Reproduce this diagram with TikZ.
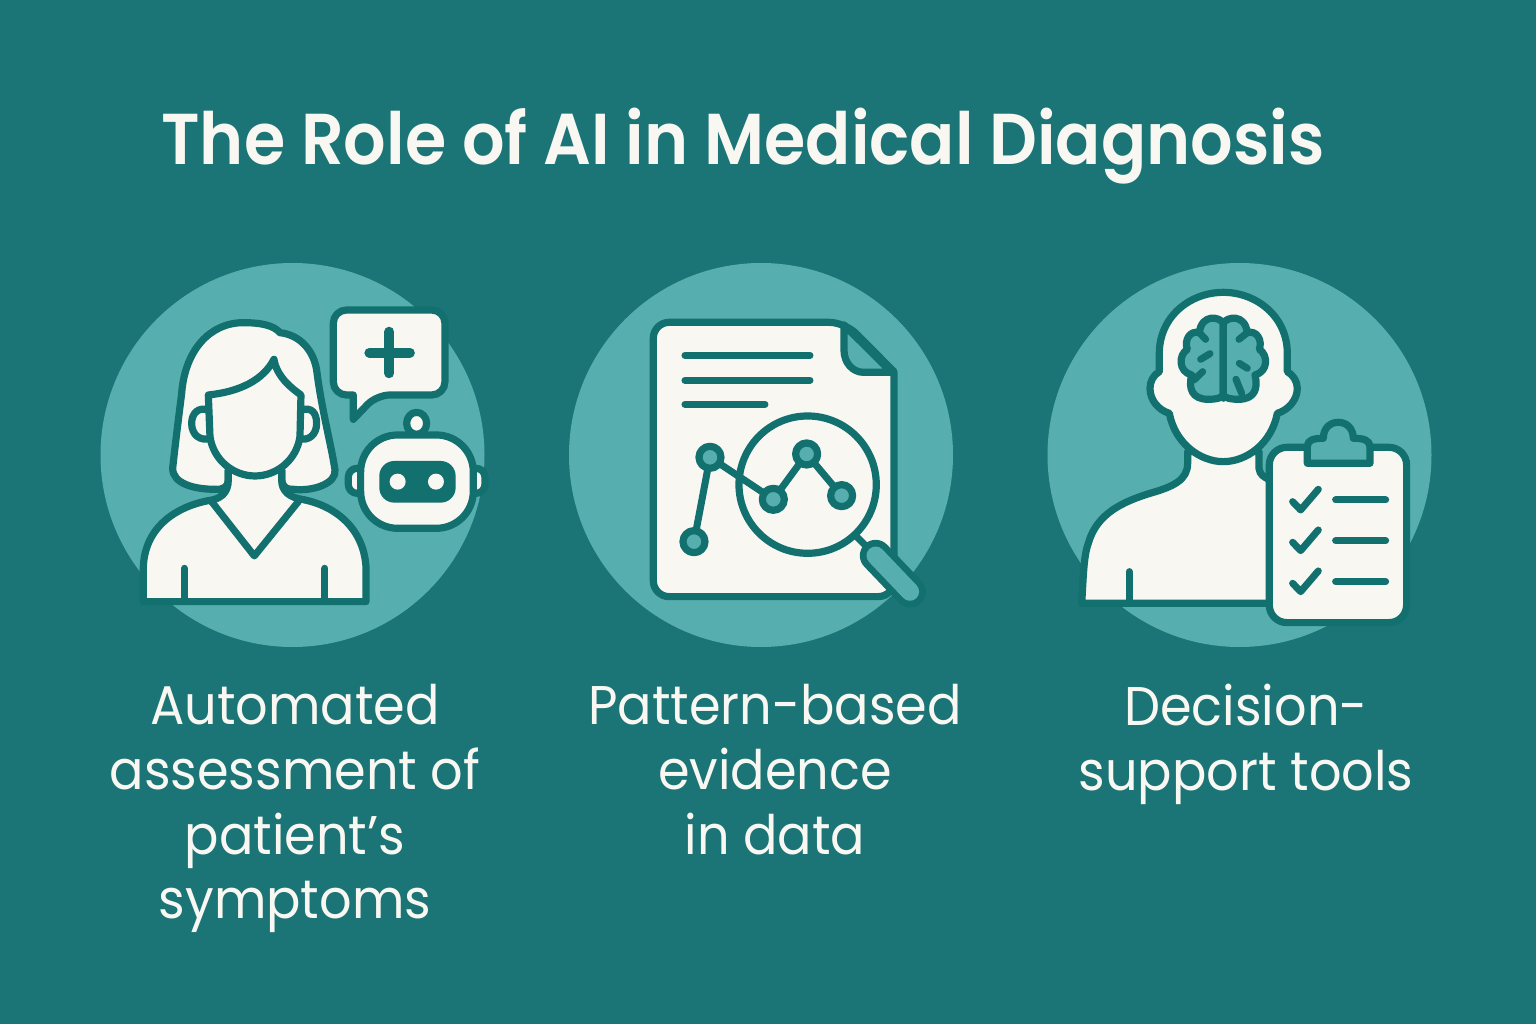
\documentclass[tikz,border=0pt]{standalone}
\usepackage{fontspec}
\setmainfont{Poppins}
\newfontfamily\titlefont[FakeStretch=0.927]{Poppins SemiBold}
\newfontfamily\labelfont[FakeStretch=0.935]{Poppins}
\definecolor{tealbg}{HTML}{1B7476}
\definecolor{tealmid}{HTML}{57AEAF}
\definecolor{tealink}{HTML}{12706F}
\definecolor{paper}{HTML}{F8F7F1}
\tikzset{
  inkline/.style={draw=tealink,line width=4.1pt,line join=round,line cap=round},
  papershape/.style={inkline,fill=paper},
  midshape/.style={inkline,fill=tealmid},
  thinline/.style={draw=tealink,line width=4pt,line cap=round},
  disc/.style={fill=tealmid},
  caption/.style={text=paper,align=center,font=\labelfont\fontsize{31}{36.85}\selectfont,anchor=north}
}
\begin{document}
\begin{tikzpicture}[x=0.02cm,y=-0.02cm]
  \fill[tealbg] (0,0) rectangle (1536,1024);
  \node[text=paper,font=\titlefont\fontsize{41}{50}\selectfont,anchor=base] (title) at (743,165) {The Role of AI in Medical Diagnosis};
  \fill[disc] (292.5,455) circle (192);
  \fill[disc] (761,455) circle (192);
  \fill[disc] (1239.5,455) circle (192);

  % patient and robot
  \begin{scope}[shift={(100,260)},scale=0.3333]
    \draw[papershape] (385,630) -- (385,660) .. controls (385,680) and (370,690) .. (345,688) .. controls (280,688) and (218,670) .. (218,625) .. controls (225,560) and (235,480) .. (245,400) .. controls (255,270) and (330,188) .. (430,188) .. controls (480,188) and (520,195) .. (540,218) .. controls (600,225) and (640,270) .. (650,330) .. controls (665,450) and (695,560) .. (705,630) .. controls (710,670) and (640,695) .. (580,688) .. controls (555,688) and (545,680) .. (545,650) -- (545,630);
    \draw[papershape] (130,1025) -- (130,920) .. controls (135,800) and (230,740) .. (325,722) .. controls (360,718) and (385,700) .. (385,660) -- (385,630) -- (545,630) -- (545,660) .. controls (545,695) and (570,712) .. (605,718) .. controls (700,735) and (790,800) .. (798,920) -- (798,1025) -- cycle;
    \draw[thinline,line join=round] (335,725) -- (463,888) -- (595,725);
    \draw[thinline] (253,925) -- (253,1025);
    \draw[thinline] (675,925) -- (675,1025);
    \draw[papershape] (325,450) .. controls (295,440) and (275,460) .. (275,490) .. controls (275,525) and (300,545) .. (335,535);
    \draw[papershape] (605,450) .. controls (635,440) and (650,460) .. (650,490) .. controls (650,525) and (625,545) .. (595,535);
    \draw[papershape] (325,405) .. controls (420,395) and (490,360) .. (522,298) .. controls (530,350) and (575,385) .. (603,405) -- (600,530) .. controls (590,600) and (530,648) .. (465,648) .. controls (400,648) and (340,600) .. (330,530) -- cycle;
    % speech bubble
    \draw[papershape,rounded corners=7.5pt] (700,150) -- (1035,150) -- (1035,405) -- (830,405) [sharp corners] -- (760,478) -- (760,405) [rounded corners=7.5pt] -- (700,405) -- cycle;
    \draw[thinline,line width=5.6pt] (868,215) -- (868,340);
    \draw[thinline,line width=5.6pt] (808,278) -- (930,278);
    % robot
    \draw[papershape] (950,490) ellipse (30 and 33);
    \draw[papershape,rounded corners=5pt] (790,625) -- (745,625) -- (745,700) -- (790,700);
    \draw[papershape,rounded corners=5pt] (1110,625) -- (1155,625) -- (1155,700) -- (1110,700);
    \draw[papershape,rounded corners=21pt] (782,525) rectangle (1120,805);
    \fill[tealink,rounded corners=8.5pt] (838,603) rectangle (1067,728);
    \fill[paper] (893,665) circle (24);
    \fill[paper] (1008,665) circle (24);
  \end{scope}

  % report and magnifier
  \begin{scope}[shift={(570,260)},scale=0.3333]
    \draw[papershape,rounded corners=9pt] (250,187) -- (825,187) [sharp corners] -- (972,335) [rounded corners=9pt] -- (972,1010) -- (250,1010) -- cycle;
    \draw[midshape] (822,195) -- (822,270) .. controls (822,310) and (850,337) .. (880,337) -- (965,337) -- cycle;
    \draw[thinline] (345,286) -- (720,286);
    \draw[thinline] (345,361) -- (720,361);
    \draw[thinline] (345,433) -- (585,433);
    \draw[thinline] (372,845) -- (420,592) -- (610,718) -- (710,582) -- (815,707);
    \draw[midshape] (372,845) circle (33);
    \draw[midshape] (420,592) circle (33);
    \draw[midshape] (610,718) circle (33);
    \draw[midshape] (710,582) circle (33);
    \draw[midshape] (815,707) circle (33);
    \draw[inkline] (713,674) circle (206);
    \draw[thinline] (860,830) -- (905,875);
    \draw[thinline,line width=18pt] (917,887) -- (1020,995);
    \draw[tealmid,line width=10.4pt,line cap=round] (917,887) -- (1020,995);
  \end{scope}

  % clinician with brain and clipboard
  \begin{scope}[shift={(1040,260)},scale=0.3333]
    \draw[papershape] (125,1030) .. controls (130,960) and (130,890) .. (145,850) .. controls (170,760) and (250,725) .. (330,700) .. controls (400,680) and (443,660) .. (443,610) -- (443,575) -- (657,575) -- (657,625) .. controls (660,645) and (670,650) .. (690,660) -- (690,1030) -- cycle;
    \draw[thinline] (268,935) -- (268,1030);
    \draw[papershape] (358,335) -- (358,280) .. controls (358,170) and (450,97) .. (550,97) .. controls (650,97) and (742,170) .. (742,280) -- (742,335) .. controls (760,345) and (772,365) .. (772,385) .. controls (772,420) and (745,450) .. (712,460) .. controls (695,550) and (620,605) .. (550,605) .. controls (480,605) and (405,550) .. (388,460) .. controls (355,450) and (330,420) .. (330,385) .. controls (330,365) and (340,345) .. (358,335) -- cycle;
    % brain
    \foreach \sx in {1,-1} {
      \begin{scope}[shift={(550,0)},xscale=\sx]
        \draw[midshape] (0,190) .. controls (-10,170) and (-65,160) .. (-72,218) .. controls (-100,210) and (-118,240) .. (-108,268) .. controls (-135,285) and (-135,335) .. (-95,345) .. controls (-105,385) and (-95,418) .. (-45,418) .. controls (-25,418) and (-5,415) .. (0,405) -- cycle;
      \end{scope}
    }
    \draw[thinline] (550,185) -- (550,415);
    \draw[thinline] (478,218) -- (497,238);
    \draw[thinline] (622,218) -- (597,238);
    \draw[thinline] (482,298) -- (510,281);
    \draw[thinline] (488,335) -- (462,360);
    \draw[thinline] (598,310) -- (622,325);
    \draw[thinline] (588,358) -- (605,400);
    % clipboard
    \draw[papershape,rounded corners=10pt] (688,562) rectangle (1100,1088);
    \draw[midshape] (802,610) -- (802,560) .. controls (802,540) and (820,535) .. (850,535) .. controls (850,505) and (870,487) .. (895,487) .. controls (920,487) and (940,505) .. (940,535) .. controls (970,535) and (990,540) .. (990,560) -- (990,610) -- cycle;
    \foreach \cy in {0,122,245} {
      \draw[thinline,line join=round] (758,725+\cy) -- (782,750+\cy) -- (835,688+\cy);
      \draw[thinline] (887,720+\cy) -- (1037,720+\cy);
    }
  \end{scope}

  \node[caption] (labelA) at (295,678) {Automated\\assessment of\\patient’s\\symptoms};
  \node[caption] (labelB) at (775,678) {Pattern-based\\evidence\\in data};
  \node[caption] (labelC) at (1246,678) {Decision-\\support tools};
\end{tikzpicture}
\end{document}
